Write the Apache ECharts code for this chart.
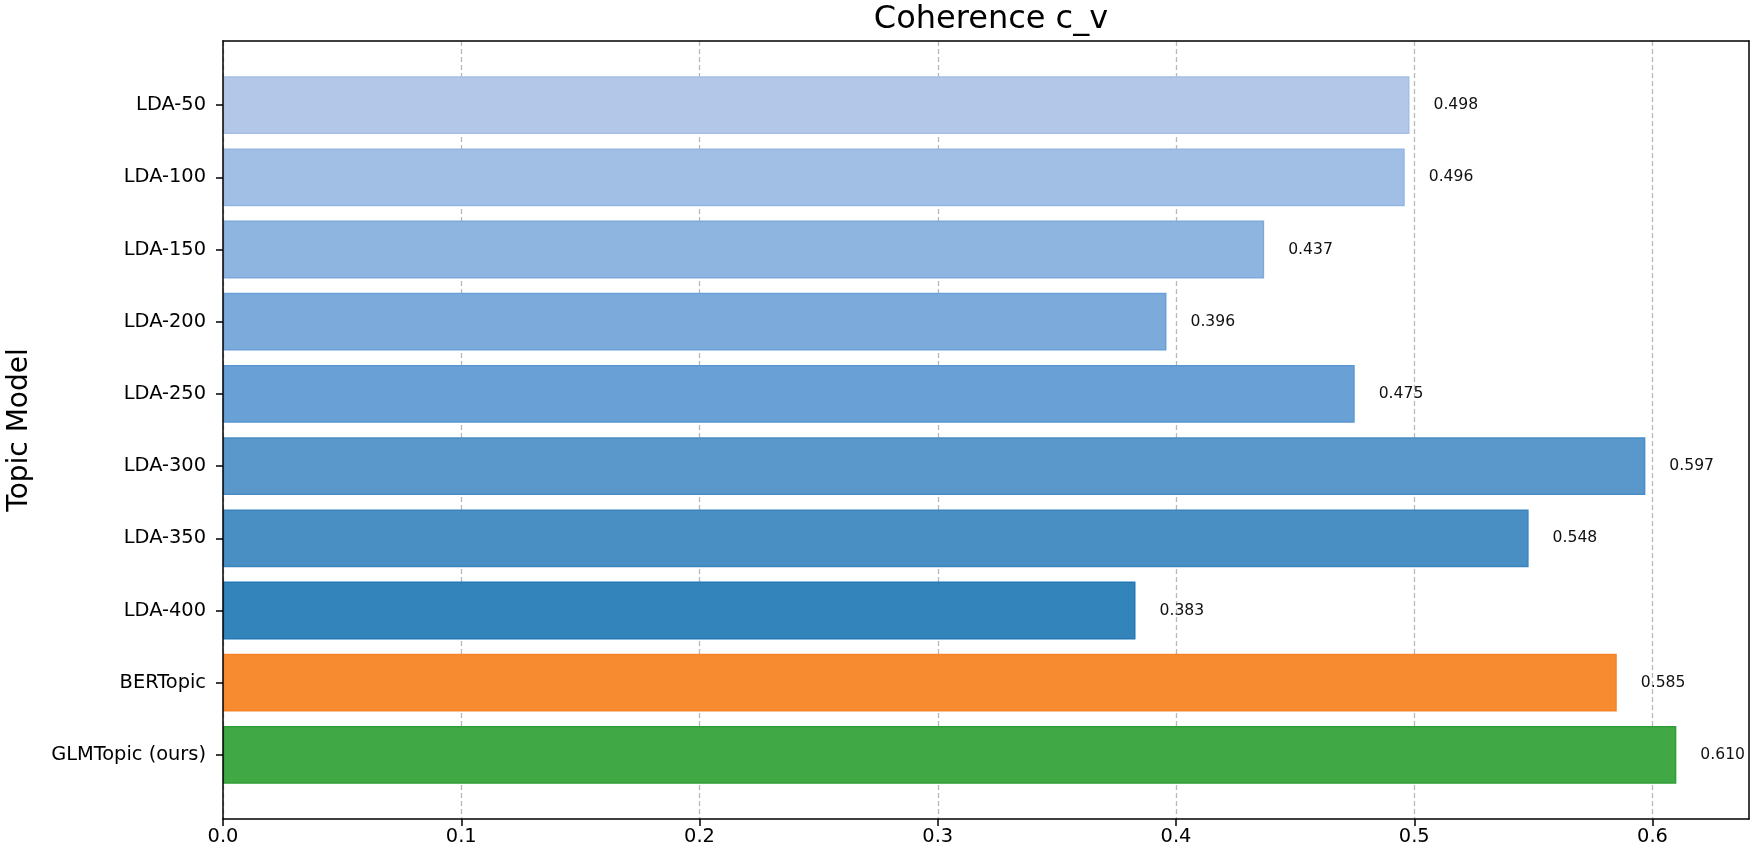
<!DOCTYPE html>
<html>
<head>
<meta charset="utf-8">
<script src="https://cdn.jsdelivr.net/npm/echarts@6/dist/echarts.min.js"></script>
<style>
html,body{margin:0;padding:0;background:#fff;}
#chart{width:1755px;height:853px;}
</style>
</head>
<body>
<div id="chart"></div>
<script>
const categories = ['LDA-50','LDA-100','LDA-150','LDA-200','LDA-250','LDA-300','LDA-350','LDA-400','BERTopic','GLMTopic (ours)'];
const values = [0.498,0.496,0.437,0.396,0.475,0.597,0.548,0.383,0.585,0.610];
const fillColors = ['#b3c8e8','#a1bfe4','#8db5e0','#7caadb','#69a1d6','#5a98cc','#4a8fc4','#3484bc','#f68b2f','#41a846'];
const edgeColors = ['#a6bee6','#93b6e2','#7eaadb','#6c9fd6','#5a96d0','#4a8dc6','#3a84be','#2478b5','#f5832a','#2e9e35'];
const xTicks = [0,0.1,0.2,0.3,0.4,0.5,0.6];
const title = 'Coherence c_v';
const yName = 'Topic Model';

const FONT = 'DejaVu Sans';
const XMAX = 0.6405;
const chart = echarts.init(document.getElementById('chart'));

const frameLine = {show: true, onZero: false, lineStyle: {color: '#000', width: 1.5}};

chart.setOption({
  backgroundColor: '#fff',
  animation: false,
  title: {
    text: title, left: 986, top: -1, textAlign: 'center',
    textStyle: {fontFamily: FONT, fontSize: 32, fontWeight: 'normal', color: '#000'}
  },
  grid: [
    {left: 223, right: 6, top: 41, bottom: 34, containLabel: false, outerBoundsMode: 'none'},
    {left: 223, right: 6, top: 69, bottom: 62, containLabel: false, outerBoundsMode: 'none'}
  ],
  xAxis: [
    {
      type: 'value', gridIndex: 0, min: 0, max: XMAX, interval: 0.1,
      axisLine: frameLine,
      axisTick: {show: true, length: 7, lineStyle: {color: '#000', width: 1.5},
                 customValues: xTicks},
      axisLabel: {fontFamily: FONT, fontSize: 19.4, color: '#000', margin: 8,
                  customValues: xTicks,
                  formatter: v => v.toFixed(1)},
      splitLine: {show: true, lineStyle: {color: '#b8b8b8', width: 1.3, type: [5, 3]}}
    },
    {
      type: 'value', gridIndex: 0, position: 'top', min: 0, max: XMAX, z: 5,
      axisLine: frameLine,
      axisTick: {show: false}, axisLabel: {show: false}, splitLine: {show: false}
    },
    {
      type: 'value', gridIndex: 1, min: 0, max: XMAX, show: false,
      splitLine: {show: false}
    }
  ],
  yAxis: [
    {
      type: 'value', gridIndex: 0, min: 0, max: 1, z: 5,
      axisLine: frameLine,
      axisTick: {show: false}, axisLabel: {show: false}, splitLine: {show: false}
    },
    {
      type: 'value', gridIndex: 0, min: 0, max: 1, position: 'right', z: 5,
      axisLine: frameLine,
      axisTick: {show: false}, axisLabel: {show: false}, splitLine: {show: false}
    },
    {
      type: 'category', gridIndex: 1, data: categories, inverse: true,
      axisLine: {show: false},
      axisTick: {show: true, alignWithLabel: true, length: 7, lineStyle: {color: '#000', width: 1.5}},
      axisLabel: {fontFamily: FONT, fontSize: 19.4, color: '#000', margin: 17},
      name: yName, nameLocation: 'middle', nameGap: 189,
      nameTextStyle: {fontFamily: FONT, fontSize: 28, color: '#000'}
    }
  ],
  series: [{
    type: 'bar', xAxisIndex: 2, yAxisIndex: 2,
    barWidth: '80%',
    data: values.map((v, i) => ({
      value: v,
      itemStyle: {color: fillColors[i], borderColor: edgeColors[i], borderWidth: 1.5}
    })),
    label: {
      show: true, position: 'right', distance: 24,
      fontFamily: FONT, fontSize: 15.6, color: '#111',
      formatter: p => p.value.toFixed(3)
    }
  }]
});
</script>
</body>
</html>
